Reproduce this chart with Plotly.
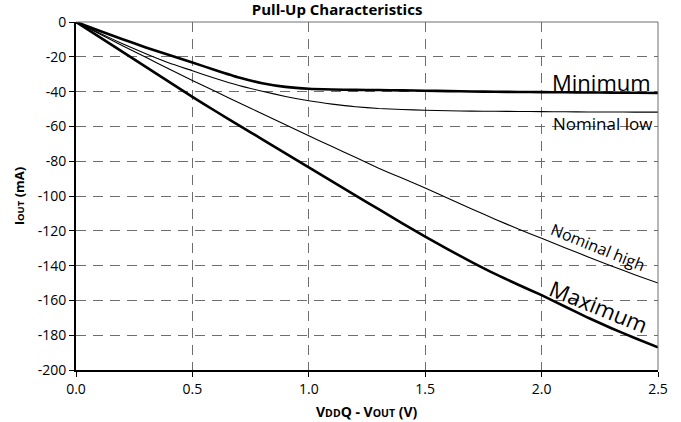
import plotly.graph_objects as go

voltage = [0, 0.1, 0.2, 0.3, 0.4, 0.5, 0.6, 0.7, 0.8, 0.9, 1.0, 1.1, 1.2, 1.3, 1.4, 1.5,
           1.6, 1.7, 1.8, 1.9, 2.0, 2.1, 2.2, 2.3, 2.4, 2.5]
minimum = [0, -5.0, -9.9, -14.6, -19.0, -23.3, -27.7, -31.9, -35.2, -37.3, -38.4, -38.8,
           -39.0, -39.1, -39.3, -39.5, -39.7, -39.9, -40.1, -40.2, -40.3, -40.4, -40.5,
           -40.6, -40.7, -40.8]
nominal_low = [0, -6.3, -12.5, -18.3, -23.6, -28.0, -32.5, -36.5, -39.8, -42.8, -45.3,
               -47.2, -48.7, -49.7, -50.3, -50.7, -51.0, -51.2, -51.3, -51.4, -51.5,
               -51.6, -51.7, -51.7, -51.8, -51.8]
nominal_high = [0, -6.8, -13.6, -20.3, -27.0, -33.6, -40.0, -46.4, -52.7, -59.0, -65.4,
                -71.6, -77.8, -84.0, -89.7, -95.4, -101.5, -107.5, -113.3, -119.0, -124.3,
                -129.7, -135.0, -140.2, -145.2, -150.0]
maximum = [0, -8.6, -17.2, -25.8, -34.4, -43.0, -51.3, -59.4, -67.4, -75.5, -83.6, -91.6,
           -99.6, -107.6, -115.6, -123.4, -130.8, -138.0, -144.8, -151.0, -157.0, -163.5,
           -170.0, -176.0, -181.6, -187.0]

x_ticks = [0.0, 0.5, 1.0, 1.5, 2.0, 2.5]
x_tick_labels = ["0.0", "0.5", "1.0", "1.5", "2.0", "2.5"]
y_ticks = [0, -20, -40, -60, -80, -100, -120, -140, -160, -180, -200]
y_tick_labels = ["0", "-20", "-40", "-60", "-80", "-100", "-120", "-140", "-160", "-180", "-200"]

FONT = "Open Sans"

fig = go.Figure()
for name, vals, w in [("Minimum", minimum, 2.6), ("Nominal low", nominal_low, 1.1),
                      ("Nominal high", nominal_high, 1.1), ("Maximum", maximum, 2.6)]:
    fig.add_trace(go.Scatter(x=voltage, y=vals, mode="lines", name=name,
                             line=dict(color="black", width=w, shape="spline", smoothing=0.5),
                             showlegend=False))

grid = dict(showgrid=True, gridcolor="#6e6e6e", gridwidth=1, griddash="10px,7px")
fig.update_xaxes(range=[0, 2.5], tickvals=x_ticks, ticktext=x_tick_labels,
                 showline=True, linecolor="black", linewidth=2,
                 ticks="outside", ticklen=5, tickcolor="black", tickwidth=1,
                 tickfont=dict(family=FONT, size=14, color="black"), zeroline=False, **grid)
fig.update_yaxes(range=[-200, 0], tickvals=y_ticks, ticktext=y_tick_labels,
                 showline=True, linecolor="black", linewidth=2,
                 ticks="outside", ticklen=5, tickcolor="black", tickwidth=1,
                 tickfont=dict(family=FONT, size=14, color="black"), zeroline=False, **grid)

# top and right borders
fig.add_shape(type="line", xref="paper", yref="paper", x0=0, x1=1, y0=1, y1=1,
              line=dict(color="#6e6e6e", width=1))
fig.add_shape(type="line", xref="paper", yref="paper", x0=1, x1=1, y0=0, y1=1,
              line=dict(color="#6e6e6e", width=1))

ann_font = dict(family=FONT, color="black")
fig.add_annotation(x=2.48, y=-34.7, text="Minimum", showarrow=False, xanchor="right",
                   yanchor="middle", font=dict(size=22, **ann_font))
fig.add_annotation(x=2.482, y=-58.5, text="Nominal low", showarrow=False, xanchor="right",
                   yanchor="middle", font=dict(size=17, **ann_font))
fig.add_annotation(x=2.241, y=-129.5, text="Nominal high", showarrow=False, xanchor="center",
                   yanchor="middle", textangle=22, font=dict(size=16, **ann_font))
fig.add_annotation(x=2.246, y=-163.5, text="Maximum", showarrow=False, xanchor="center",
                   yanchor="middle", textangle=22, font=dict(size=22, **ann_font))

# axis titles
fig.add_annotation(xref="paper", yref="paper", x=0, y=0.5, xshift=-56.7,
                   text="<b>I<span style='font-size:9.5px'>OUT</span> (mA)</b>",
                   showarrow=False, textangle=-90, xanchor="center", yanchor="middle",
                   font=dict(family=FONT, size=13, color="black"))
fig.add_annotation(xref="paper", yref="paper", x=0.5, y=0, yshift=-41.5,
                   text="<b>V<span style='font-size:10.5px'>DD</span>Q - V<span style='font-size:10.5px'>OUT</span> (V)</b>",
                   showarrow=False, xanchor="center", yanchor="middle",
                   font=dict(family=FONT, size=14, color="black"))

fig.update_layout(
    width=681, height=422,
    margin=dict(l=76, r=23, t=17.5, b=51.5),
    paper_bgcolor="white", plot_bgcolor="white",
    title=dict(text="<b>Pull-Up Characteristics</b>", x=0.495, xanchor="center",
               y=0.9765, yanchor="middle", font=dict(family=FONT, size=15, color="black")),
)

fig.write_html("out.html")
